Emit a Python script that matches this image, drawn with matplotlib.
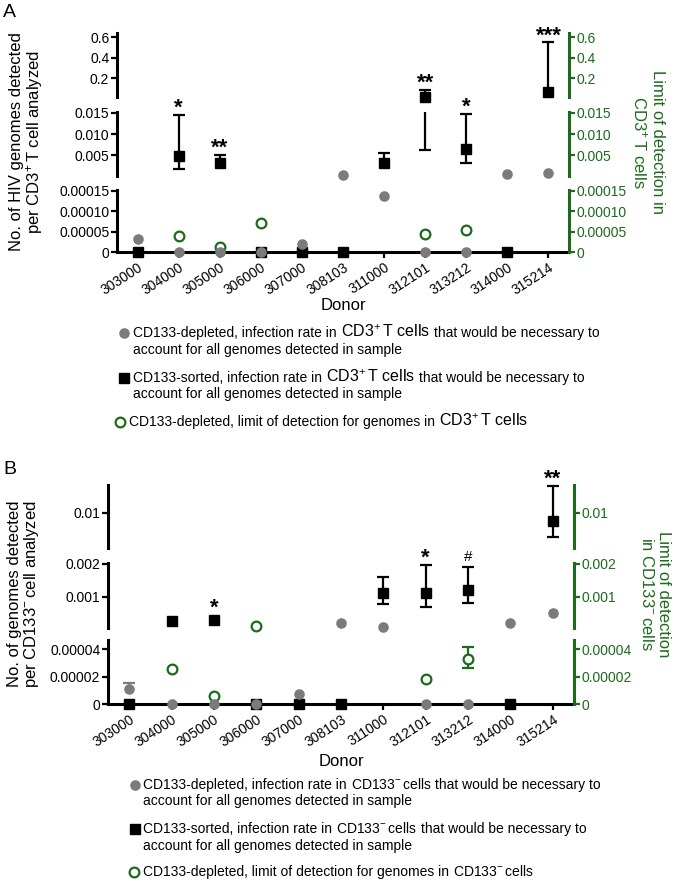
import numpy as np
import matplotlib.pyplot as plt

plt.rcParams['font.family'] = ['Liberation Sans', 'DejaVu Sans']
plt.rcParams['mathtext.fontset'] = 'custom'
plt.rcParams['mathtext.rm'] = 'Liberation Sans'
plt.rcParams['mathtext.default'] = 'regular'

nan = np.nan
donors = ['303000', '304000', '305000', '306000', '307000', '308103',
          '311000', '312101', '313212', '314000', '315214']

# panel A: CD3+ T cells
a_depleted = [0.000031, 0, 0, 0, 0.000019, 0.0005, 0.000138, 0, 0, 0.0007, 0.0009]
a_sorted = [0, 0.0048, 0.0031, 0, 0, 0, 0.0031, 0.02, 0.0064, 0, 0.063]
a_sorted_lo = [nan, 0.0019, nan, nan, nan, nan, nan, 0.0062, 0.0033, nan, nan]
a_sorted_hi = [nan, 0.0145, 0.0052, nan, nan, nan, 0.0055, 0.083, 0.0148, nan, 0.55]
a_lod = [nan, 0.00004, 0.000012, 0.000072, nan, nan, nan, 0.000043, 0.000055, nan, nan]
a_sig = ['', '*', '**', '', '', '', '', '**', '*', '', '***']

# panel B: CD133- cells
b_depleted = [0.0000113, 0, 0, 0, 0.0000076, 0.00019, 0.00009, 0, 0, 0.00019, 0.0005]
b_depleted_hi = [0.0000156, nan, nan, nan, nan, nan, nan, nan, nan, nan, nan]
b_sorted = [0, 0.00025, 0.00028, 0, 0, 0, 0.00112, 0.00112, 0.0012, 0, 0.0087]
b_sorted_lo = [nan, nan, nan, nan, nan, nan, 0.00078, 0.00069, 0.00081, nan, 0.0062]
b_sorted_hi = [nan, nan, nan, nan, nan, nan, 0.0016, 0.00197, 0.0019, nan, 0.0143]
b_lod = [nan, 0.0000258, 0.0000055, 0.0001, nan, nan, nan, 0.0000185, 0.000033, nan, nan]
b_lod_lo = [nan, nan, nan, nan, nan, nan, nan, nan, 0.0000265, nan, nan]
b_lod_hi = [nan, nan, nan, nan, nan, nan, nan, nan, 0.0000418, nan, nan]
b_sig = ['', '', '*', '', '', '', '', '*', '#', '', '**']

W, H = 674, 885
GREEN = '#1c6a1c'
GRAY = '#7b7b7b'

fig = plt.figure(figsize=(W / 100, H / 100), dpi=100)


def box(x0, x1, ytop, ybot):
    return [x0 / W, 1 - ybot / H, (x1 - x0) / W, (ybot - ytop) / H]


def arr(v):
    return np.asarray(v, dtype=float)


def panel(x0, x1, segs, dep, dep_lo, dep_hi, srt, srt_lo, srt_hi, lod, lod_lo, lod_hi, sig):
    x = np.arange(len(donors))
    axes = []
    for k, (ytop, ybot, lim, ticks, labels) in enumerate(segs):
        ax = fig.add_axes(box(x0, x1, ytop, ybot))
        ax.set_xlim(-0.5, len(donors) - 0.5)
        ax.set_ylim(lim)
        ax.patch.set_visible(False)
        ax.spines[['top', 'right']].set_visible(False)
        ax.spines['left'].set_linewidth(2.2)
        ax.set_yticks(ticks, labels)
        ax.tick_params(axis='y', length=4, width=1.6, labelsize=10, pad=1.5)
        if k == 0:
            ax.spines['bottom'].set_linewidth(2.2)
            ax.set_xticks(x, donors, rotation=33, ha='right', rotation_mode='anchor')
            ax.tick_params(axis='x', length=4, width=1.6, labelsize=10, pad=2)
        else:
            ax.spines['bottom'].set_visible(False)
            ax.set_xticks([])
        ax2 = ax.twinx()
        ax2.set_ylim(lim)
        ax2.spines[['top', 'bottom', 'left']].set_visible(False)
        ax2.spines['right'].set_color(GREEN)
        ax2.spines['right'].set_linewidth(2.2)
        ax2.set_yticks(ticks, labels)
        ax2.tick_params(axis='y', colors=GREEN, length=4, width=1.6, labelsize=10, pad=1.5)
        axes.append(ax)

    def seg_of(v):
        for k, s in enumerate(segs):
            if v <= s[2][1]:
                return k
        return len(segs) - 1

    def series(vals, lo, hi, color, style, z):
        vals, lo, hi = arr(vals), arr(lo), arr(hi)
        # error bars, cut by hand at each segment's range
        for ax, s in zip(axes, segs):
            l, u = s[2]
            for i in np.flatnonzero(~np.isnan(hi)):
                bot = vals[i] if np.isnan(lo[i]) else lo[i]
                a, b = max(bot, l), min(hi[i], u)
                if a < b:
                    ax.vlines(x[i], a, b, color=color, lw=1.6, zorder=z - 0.5)
                for end in (hi[i], lo[i]):
                    if not np.isnan(end) and l <= end <= u:
                        ax.plot(x[i], end, marker='_', ms=8.6, mew=1.6, color=color,
                                clip_on=False, zorder=z - 0.5)
        ok = ~np.isnan(vals)
        where = np.array([seg_of(v) if o else -1 for v, o in zip(vals, ok)])
        for k, ax in enumerate(axes):
            m = where == k
            ax.plot(x[m], vals[m], ls='none', clip_on=False, zorder=z, **style)

    series(srt, srt_lo, srt_hi, 'black',
           dict(marker='s', ms=7.2, color='black'), 3)
    series(lod, lod_lo, lod_hi, GREEN,
           dict(marker='o', ms=7, mfc='white', mec=GREEN, mew=1.6), 4)
    series(dep, dep_lo, dep_hi, GRAY,
           dict(marker='o', ms=6.6, color=GRAY), 5)

    srt_v, hi_v = arr(srt), arr(srt_hi)
    for i, s in enumerate(sig):
        if not s:
            continue
        top = hi_v[i] if not np.isnan(hi_v[i]) else srt_v[i]
        off = 1 if not np.isnan(hi_v[i]) else 5
        ax = axes[seg_of(top)]
        if s == '#':
            ax.annotate(s, (i, top), xytext=(0, off + 1), textcoords='offset points',
                        ha='center', va='bottom', fontsize=11, annotation_clip=False)
        else:
            ax.annotate(s, (i, top), xytext=(0, off - 4), textcoords='offset points',
                        ha='center', va='bottom', fontsize=16, fontweight='bold',
                        annotation_clip=False)
    return axes


segs_a = [
    (190, 252, (0, 0.000152), [0, 0.00005, 0.0001, 0.00015], ['0', '0.00005', '0.00010', '0.00015']),
    (112, 176, (0.000152, 0.0152), [0.005, 0.010, 0.015], ['0.005', '0.010', '0.015']),
    (33, 97, (0.0152, 0.639), [0.2, 0.4, 0.6], ['0.2', '0.4', '0.6']),
]
segs_b = [
    (640, 704, (0, 0.0000467), [0, 0.00002, 0.00004], ['0', '0.00002', '0.00004']),
    (563, 628, (0.0000467, 0.00203), [0.001, 0.002], ['0.001', '0.002']),
    (485, 548, (0.0045, 0.0144), [0.01], ['0.01']),
]

nans = [nan] * len(donors)
panel(117, 569, segs_a, a_depleted, nans, nans, a_sorted, a_sorted_lo, a_sorted_hi,
      a_lod, nans, nans, a_sig)
panel(108, 574, segs_b, b_depleted, nans, b_depleted_hi, b_sorted, b_sorted_lo, b_sorted_hi,
      b_lod, b_lod_lo, b_lod_hi, b_sig)

# axis titles and panel letters
fig.text(3 / W, 1 - 4 / H, 'A', fontsize=14, va='top')
fig.text(3 / W, 1 - 461 / H, 'B', fontsize=14, va='top')
fig.text(27 / W, 1 - 142 / H, 'No. of HIV genomes detected\nper CD3$^{+}\\,$T cell analyzed',
         rotation=90, ha='center', va='center', fontsize=12, linespacing=1.05)
fig.text(648 / W, 1 - 142 / H, 'Limit of detection in\nCD3$^{+}\\,$T cells', color=GREEN,
         rotation=270, ha='center', va='center', fontsize=12, linespacing=1.05)
fig.text(24 / W, 1 - 594 / H, 'No. of genomes detected\nper CD133$^{-}\\,$cell analyzed',
         rotation=90, ha='center', va='center', fontsize=12, linespacing=1.05)
fig.text(655 / W, 1 - 594 / H, 'Limit of detection\nin CD133$^{-}\\,$cells', color=GREEN,
         rotation=270, ha='center', va='center', fontsize=12, linespacing=1.05)
fig.text(343 / W, 1 - 305 / H, 'Donor', ha='center', va='center', fontsize=12)
fig.text(341 / W, 1 - 761 / H, 'Donor', ha='center', va='center', fontsize=12)

# legends
lax = fig.add_axes([0, 0, 1, 1])
lax.axis('off')
lax.set_xlim(0, W)
lax.set_ylim(H, 0)


def rich(x, y, parts):
    t = lax.text(x, y, parts[0][0], fontsize=parts[0][1], va='center')
    for s, fs in parts[1:]:
        t = lax.annotate(s, xy=(1, 0), xycoords=t, xytext=(2.8, 0),
                         textcoords='offset points', fontsize=fs, va='bottom')


def legend(rows, xm, xt, cell, big):
    y1, y2, y3, y4, y5 = rows
    lax.plot(xm[0], y1, 'o', ms=6.6, color=GRAY)
    lax.plot(xm[1], y3, 's', ms=7.2, color='black')
    lax.plot(xm[2], y5, 'o', ms=7, mfc='white', mec=GREEN, mew=1.6)
    rich(xt[0], y1, [('CD133-depleted, infection rate in', 10), (cell, big),
                     ('that would be necessary to', 10)])
    lax.text(xt[0], y2, 'account for all genomes detected in sample', fontsize=10, va='center')
    rich(xt[1], y3, [('CD133-sorted, infection rate in', 10), (cell, big),
                     ('that would be necessary to', 10)])
    lax.text(xt[1], y4, 'account for all genomes detected in sample', fontsize=10, va='center')
    rich(xt[2], y5, [('CD133-depleted, limit of detection for genomes in', 10), (cell, big)])


legend([333, 350, 378, 394, 422], [124, 124, 120], [133, 133, 129],
       'CD3$^{+}\\,$T cells', 11.5)
legend([785, 801, 829, 846, 872], [135, 135, 134], [143, 143, 143],
       'CD133$^{-}\\,$cells', 10)

fig.savefig('out.png', dpi=100)
